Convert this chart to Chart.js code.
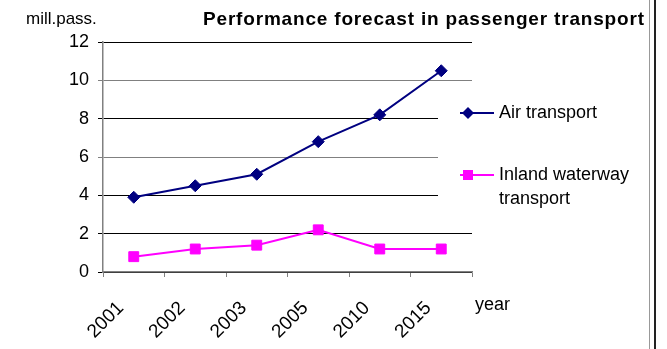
<!DOCTYPE html>
<html>
<head>
<meta charset="utf-8">
<script src="https://cdn.jsdelivr.net/npm/chart.js@4/dist/chart.umd.min.js"></script>
<style>
  html, body { margin: 0; padding: 0; background: #fff; }
  canvas { display: block; }
</style>
</head>
<body>
<canvas id="myChart" width="667" height="349"></canvas>
<script>
const categories = ['2001', '2002', '2003', '2005', '2010', '2015'];
const airTransport = [3.9, 4.5, 5.1, 6.8, 8.2, 10.5];
const inlandWaterway = [0.8, 1.2, 1.4, 2.2, 1.2, 1.2];
const seriesLabels = ['Air transport', 'Inland waterway transport'];
const yTickValues = [0, 2, 4, 6, 8, 10, 12];
const chartTitle = 'Performance forecast in passenger transport';
const yUnit = 'mill.pass.';
const xUnit = 'year';

const FONT = "'Liberation Sans', Arial, sans-serif";
Chart.defaults.font.family = FONT;
Chart.defaults.font.size = 18;
Chart.defaults.color = '#000';

// draw text stretched to a given width (the original has wide letter spacing)
function fitText(ctx, text, x, y, width) {
  ctx.letterSpacing = '0px';
  const w0 = ctx.measureText(text).width;
  const sp = Math.max(0, (width - w0) / (text.length - 1));
  ctx.letterSpacing = sp + 'px';
  ctx.fillText(text, x, y);
  ctx.letterSpacing = '0px';
}

function wrap(ctx, text, maxW) {
  const words = text.split(' ');
  const lines = [];
  let cur = '';
  words.forEach(w => {
    const t = cur ? cur + ' ' + w : w;
    if (cur && ctx.measureText(t).width > maxW) { lines.push(cur); cur = w; }
    else cur = t;
  });
  lines.push(cur);
  return lines;
}

const extras = {
  id: 'extras',
  beforeDatasetsDraw(chart) {
    // legend box hides part of the grid
    const ctx = chart.ctx;
    ctx.save();
    ctx.fillStyle = '#fff';
    ctx.fillRect(438, 90, 40, 136);
    ctx.restore();
  },
  afterDraw(chart) {
    const ctx = chart.ctx;
    ctx.save();
    ctx.fillStyle = '#000';
    ctx.textBaseline = 'middle';

    // title + unit labels
    ctx.font = 'bold 19px ' + FONT;
    fitText(ctx, chartTitle, 203, 20, 441);
    ctx.font = '17px ' + FONT;
    ctx.fillText(yUnit, 26, 19);
    ctx.font = '18px ' + FONT;
    ctx.fillText(xUnit, 475, 305);

    // legend
    const rows = [113, 175];
    chart.data.datasets.forEach((ds, i) => {
      const y = rows[i];
      ctx.strokeStyle = ds.borderColor;
      ctx.lineWidth = 2;
      ctx.beginPath();
      ctx.moveTo(460, y);
      ctx.lineTo(494, y);
      ctx.stroke();
      ctx.fillStyle = ds.borderColor;
      ctx.beginPath();
      if (ds.pointStyle === 'rectRot') {
        ctx.moveTo(468, y - 6); ctx.lineTo(474, y); ctx.lineTo(468, y + 6); ctx.lineTo(462, y);
      } else {
        ctx.rect(463, y - 5, 10, 10);
      }
      ctx.fill();
      ctx.fillStyle = '#000';
      ctx.font = '18px ' + FONT;
      wrap(ctx, ds.label, 150).forEach((line, k) => {
        ctx.fillText(line, 499, y + k * 24);
      });
    });

    // frame lines at the right
    ctx.strokeStyle = '#999';
    ctx.lineWidth = 1;
    ctx.beginPath(); ctx.moveTo(649.5, 0); ctx.lineTo(649.5, 349); ctx.stroke();
    ctx.strokeStyle = '#222';
    ctx.lineWidth = 2;
    ctx.beginPath(); ctx.moveTo(655, 0); ctx.lineTo(655, 349); ctx.stroke();
    ctx.restore();
  }
};

new Chart(document.getElementById('myChart'), {
  type: 'line',
  data: {
    labels: categories,
    datasets: [{
      label: seriesLabels[0],
      data: airTransport,
      borderColor: '#000080',
      backgroundColor: '#000080',
      borderWidth: 2,
      pointStyle: 'rectRot',
      pointRadius: 6,
      pointBorderWidth: 1,
      tension: 0
    }, {
      label: seriesLabels[1],
      data: inlandWaterway,
      borderColor: '#FF00FF',
      backgroundColor: '#FF00FF',
      borderWidth: 2,
      pointStyle: 'rect',
      pointRadius: 7,
      pointBorderWidth: 1,
      tension: 0
    }]
  },
  options: {
    responsive: false,
    animation: false,
    layout: { padding: { left: 0, top: 42, right: 195, bottom: 0 } },
    plugins: {
      legend: { display: false },
      tooltip: { enabled: false }
    },
    scales: {
      x: {
        offset: true,
        grid: {
          offset: true,
          drawOnChartArea: false,
          tickLength: 5,
          color: '#808080'
        },
        border: { color: '#808080', width: 1.5 },
        ticks: {
          minRotation: 45,
          maxRotation: 45,
          padding: 20,
          labelOffset: -13,
          font: { size: 19 }
        },
        afterFit(scale) { scale.height = 77; }
      },
      y: {
        min: 0,
        max: 12,
        afterBuildTicks(scale) { scale.ticks = yTickValues.map(v => ({ value: v })); },
        grid: {
          tickLength: 5,
          color: ctx => (ctx.tick && (ctx.tick.value === 10 || ctx.tick.value === 6)) ? '#808080' : '#000'
        },
        border: { color: '#808080', width: 1.5 },
        ticks: { padding: 9, font: { size: 18 } },
        afterFit(scale) { scale.width = 103; }
      }
    }
  },
  plugins: [extras]
});
</script>
</body>
</html>
